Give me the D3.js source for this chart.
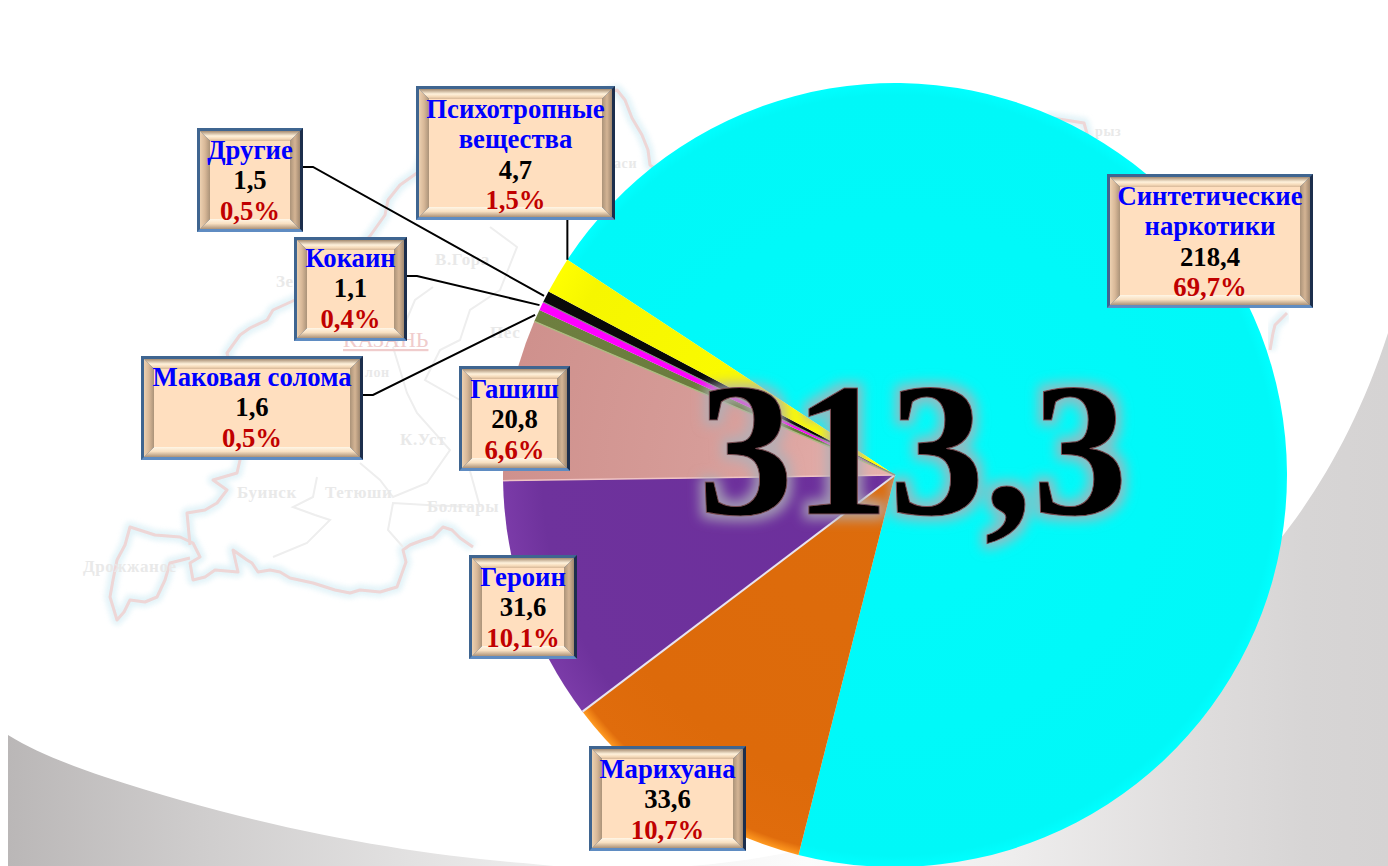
<!DOCTYPE html>
<html><head><meta charset="utf-8">
<script src="https://cdn.jsdelivr.net/npm/d3@7/dist/d3.min.js"></script>
<style>html,body{margin:0;padding:0;background:#fff;overflow:hidden}svg{display:block}</style>
</head><body><svg id="c" width="1388" height="866"></svg>
<script>
// ---- data ----
const categories = ["Синтетические наркотики","Марихуана","Героин","Гашиш","Маковая солома","Кокаин","Другие","Психотропные вещества"];
const values = [218.4,33.6,31.6,20.8,1.6,1.1,1.5,4.7];
const valueLabels = ["218,4","33,6","31,6","20,8","1,6","1,1","1,5","4,7"];
const percentLabels = ["69,7%","10,7%","10,1%","6,6%","0,5%","0,4%","0,5%","1,5%"];
const totalLabel = "313,3";
// ---- styling and layout ----
const nameLines = [["Синтетические","наркотики"],["Марихуана"],["Героин"],["Гашиш"],["Маковая солома"],["Кокаин"],["Другие"],["Психотропные","вещества"]];
const sliceStops = [
 [["0","#00fbfb"],["0.97","#00f8f8"],["1","#00ffff"]],
 [["0","#dd6c0c"],["0.8","#dd6a0a"],["0.975","#e06c0c"],["1","#ff9a20"]],
 [["0","#6c2f9c"],["0.9","#6e329c"],["1","#7b3ba8"]],
 [["0","#e8b2ae"],["0.5","#d69c98"],["1","#cf918d"]],
 [["0","#66783a"],["1","#6e7f40"]],
 [["0","#ff00ff"],["1","#ff00ff"]],
 [["0","#000"],["1","#0a0a0a"]],
 [["0","#ffff00"],["0.9","#f6f600"],["1","#ffff00"]]
];
const boxes = [[1107,174,1313,308],[589,746,746,851],[469,555,577,659],[459,366,570,471],[141,356,363,460],[294,237,407,341],[197,128,303,232],[416,86,615,220]];
const firstBaselines = [205,778,586,398,386,267,159,118];

const W=1388,H=866,cx=895,cy=475,R=392;
const svg=d3.select("#c"), defs=svg.append("defs");

// background
const grayStops=[[0,"#bab7b7"],[.14,"#cfcdcd"],[.29,"#e2e1e1"],[.43,"#f2f2f2"],[.58,"#fbfbfb"],[.72,"#efeeee"],[.86,"#dfdddd"],[.94,"#d7d5d5"],[1,"#d5d3d3"]];
const gg=defs.append("linearGradient").attr("id","bgGray");
grayStops.forEach(s=>gg.append("stop").attr("offset",s[0]).attr("stop-color",s[1]));
svg.append("rect").attr("width",W).attr("height",H).attr("fill","#fff");
svg.append("rect").attr("x",8).attr("y",300).attr("width",W-8).attr("height",H-300).attr("fill","url(#bgGray)");
svg.append("path").attr("fill","#fff")
 .attr("d","M0,0L1388,0L1388,333C1360,420 1320,490 1277,543C1180,660 1000,800 800,850C700,872 600,872 523,863C400,853 260,828 105,777C70,765 35,752 8,735L0,735Z");
svg.append("rect").attr("width",8).attr("height",H).attr("fill","#fff");

// faint map
const mapG=svg.append("g");
defs.append("filter").attr("id","halo").attr("x","-10%").attr("y","-10%").attr("width","120%").attr("height","120%")
 .append("feGaussianBlur").attr("stdDeviation",2.5);
defs.append("filter").attr("id","soft").attr("x","-10%").attr("y","-10%").attr("width","120%").attr("height","120%")
 .append("feGaussianBlur").attr("stdDeviation",0.7);
const outline=[
 "M473,547L460,538L452,530L443,527L433,537L423,540L410,545L403,550L406,562L397,587L380,592L360,590L350,593L335,590L313,583L290,578L280,572L270,570L258,572L252,563L247,560L233,550L238,572L215,570L205,577L193,580L190,563L200,557L193,543L180,537L155,535L130,527L125,545L117,560L113,580L110,597L117,620L124,612L130,600L145,602L157,597L165,580L170,563L190,558",
 "M190,545L187,513L205,510L217,503L227,490L213,480L237,473L240,460L243,445L240,400L227,353L240,335L250,328L267,320L273,310L295,300L340,270L370,236L385,215L388,200L400,185L417,173L430,140L500,100L600,95L617,90L625,100L632,118L642,135L648,150L650,165L700,200",
 "M1046,117L1065,120L1084,123L1086,130L1100,180",
 "M1287,313L1275,325L1273,333L1270,350"
];
const districts=[
 "M317,477L313,497L293,507L315,515L330,520L307,543L273,557",
 "M473,507L427,505L393,503L388,530L403,547",
 "M393,347L407,393L417,413L450,450L427,483L393,497L380,480L360,463",
 "M433,287L415,300L395,347",
 "M490,227L517,247L500,290L470,310L460,340L440,350L425,380L460,400",
 "M470,471L480,507"
];
outline.forEach(d=>{
 mapG.append("path").attr("d",d).attr("fill","none").attr("stroke","#d8eff6").attr("stroke-width",11).attr("stroke-linejoin","round").attr("filter","url(#halo)").attr("opacity",.7);
});
districts.forEach(d=>mapG.append("path").attr("d",d).attr("fill","none").attr("stroke","#eeeeee").attr("stroke-width",2).attr("filter","url(#soft)"));
outline.forEach(d=>mapG.append("path").attr("d",d).attr("fill","none").attr("stroke","#eed6d6").attr("stroke-width",3).attr("stroke-linejoin","round").attr("filter","url(#soft)"));
const mapLabels=[["Буинск",237,498,17],["Тетюши",325,498,17],["Болгары",427,512,17],["Дрожжаное",83,572,17],["К.Уст",400,445,17],["В.Гора",435,265,17],["Зе",276,287,17],["лон",365,377,14],["Пес",490,338,17],["аси",614,168,14],["рыз",1095,136,14]];
mapG.selectAll("text.m").data(mapLabels).join("text").attr("class","m")
 .attr("x",d=>d[1]).attr("y",d=>d[2]).attr("font-size",d=>d[3]).attr("font-family","'Liberation Serif',serif").attr("font-weight","bold").attr("fill","#e9e9e9").attr("letter-spacing",.6).text(d=>d[0]);
mapG.append("text").attr("x",343).attr("y",347).attr("font-size",22).attr("font-family","'Liberation Serif',serif").attr("fill","#f0cccc").attr("text-decoration","underline").text("КАЗАНЬ");

// pie
const start=303.3*Math.PI/180;
const pie=d3.pie().sort(null).startAngle(start).endAngle(start+2*Math.PI)(values);
const arc=d3.arc().innerRadius(0).outerRadius(R);
sliceStops.forEach((st,i)=>{
 const g=defs.append("radialGradient").attr("id","s"+i).attr("gradientUnits","userSpaceOnUse").attr("cx",0).attr("cy",0).attr("r",R);
 st.forEach(s=>g.append("stop").attr("offset",s[0]).attr("stop-color",s[1]));
});
const pg=svg.append("g").attr("transform",`translate(${cx},${cy})`);
pg.selectAll("path.s").data(pie).join("path").attr("class","s").attr("d",arc).attr("fill",(d,i)=>`url(#s${i})`);
// slice-edge highlights, taken from the slice boundaries
const edge=a=>[R*Math.sin(a),-R*Math.cos(a)];
[[2,"#e8e4f0",2],[3,"#f0c4c4",1.5],[4,"#aebb80",1.4],[6,"#8a8a8a",1.2]].forEach(([i,c,w])=>{
 const p=edge(pie[i].startAngle);
 pg.append("line").attr("x2",p[0]).attr("y2",p[1]).attr("stroke",c).attr("stroke-width",w);
});

// leaders
const lp=(i,off)=>{const a=(pie[i].startAngle+pie[i].endAngle)/2;return [cx+(R+off)*Math.sin(a),cy-(R+off)*Math.cos(a)];};
const leader=d3.line();
[4,5,6].forEach(i=>{
 const b=boxes[i],yMid=(b[1]+b[3])/2-13,e=lp(i,2);
 svg.append("path").attr("fill","none").attr("stroke","#000").attr("stroke-width",2)
  .attr("d",leader([[b[2],yMid],[b[2]+10,yMid],e]));
});
{const p=edge(pie[7].endAngle);svg.append("line").attr("x1",cx+p[0]).attr("x2",cx+p[0]).attr("y1",boxes[7][3]).attr("y2",cy+p[1]).attr("stroke","#000").attr("stroke-width",2);}

// label boxes
function lg(id,dir,stops){
 const g=defs.append("linearGradient").attr("id",id).attr("x1",0).attr("x2",dir==="h"?1:0).attr("y1",0).attr("y2",dir==="v"?1:0);
 stops.forEach(s=>g.append("stop").attr("offset",s[0]).attr("stop-color",s[1]));
}
lg("bT","v",[[0,"#a58b70"],[.5,"#fff2dc"],[.75,"#f6dcbc"],[1,"#d8b898"]]);
lg("bB","v",[[0,"#fff6e6"],[.45,"#f8e0c2"],[1,"#ac9278"]]);
lg("bL","h",[[0,"#ecd0b0"],[.5,"#d8b898"],[1,"#ab9379"]]);
lg("bR","h",[[0,"#ab9379"],[.5,"#d4b494"],[1,"#a08870"]]);
const bw=3,bev=10;
const boxG=svg.append("g");
categories.forEach((c,i)=>{
 const [x0,y0,x1,y1]=boxes[i],g=boxG.append("g");
 const a=x0+bw,b=y0+bw,e=x1-bw,f=y1-bw,ia=a+bev,ib=b+bev,ie=e-bev,jf=f-bev;
 g.append("rect").attr("x",x0).attr("y",y0).attr("width",x1-x0).attr("height",y1-y0).attr("fill","#3f6590");
 g.append("path").attr("d",`M${x1},${y0}L${x1},${y1}L${e},${f}L${e},${b}Z`).attr("fill","#1c2e4c");
 g.append("path").attr("d",`M${x0},${y1}L${x1},${y1}L${e},${f}L${a},${f}Z`).attr("fill","#5f8cc2");
 g.append("rect").attr("x",ia).attr("y",ib).attr("width",ie-ia).attr("height",jf-ib).attr("fill","#ffdfbf");
 g.append("path").attr("d",`M${a},${b}L${e},${b}L${ie},${ib}L${ia},${ib}Z`).attr("fill","url(#bT)");
 g.append("path").attr("d",`M${a},${f}L${e},${f}L${ie},${jf}L${ia},${jf}Z`).attr("fill","url(#bB)");
 g.append("path").attr("d",`M${a},${b}L${ia},${ib}L${ia},${jf}L${a},${f}Z`).attr("fill","url(#bL)");
 g.append("path").attr("d",`M${e},${b}L${ie},${ib}L${ie},${jf}L${e},${f}Z`).attr("fill","url(#bR)");
 const lines=[...nameLines[i].map(t=>[t,"#0000ff"]),[valueLabels[i],"#000"],[percentLabels[i],"#c00000"]];
 g.selectAll("text").data(lines).join("text")
  .attr("x",(x0+x1)/2).attr("y",(d,k)=>firstBaselines[i]+k*30.3)
  .attr("text-anchor","middle").attr("font-family","'Liberation Serif',serif").attr("font-weight","bold").attr("font-size",26.7)
  .attr("fill",d=>d[1]).text(d=>d[0]);
});

// total
const fl=defs.append("filter").attr("id","glow").attr("x","-10%").attr("y","-20%").attr("width","120%").attr("height","140%");
fl.append("feMorphology").attr("in","SourceAlpha").attr("operator","dilate").attr("radius",5).attr("result","d");
fl.append("feGaussianBlur").attr("in","d").attr("stdDeviation",6).attr("result","b");
fl.append("feFlood").attr("flood-color","#aeb0b8").attr("flood-opacity",.8).attr("result","c");
fl.append("feComposite").attr("in","c").attr("in2","b").attr("operator","in").attr("result","g");
const mg=fl.append("feMerge");mg.append("feMergeNode").attr("in","g");mg.append("feMergeNode").attr("in","SourceGraphic");
svg.append("text").attr("x",698).attr("y",514).attr("font-family","'Liberation Serif',serif").attr("font-weight","bold").attr("font-size",191)
 .attr("fill","#050203").attr("stroke","#7a4a50").attr("stroke-width",1).attr("filter","url(#glow)").text(totalLabel);
</script></body></html>
